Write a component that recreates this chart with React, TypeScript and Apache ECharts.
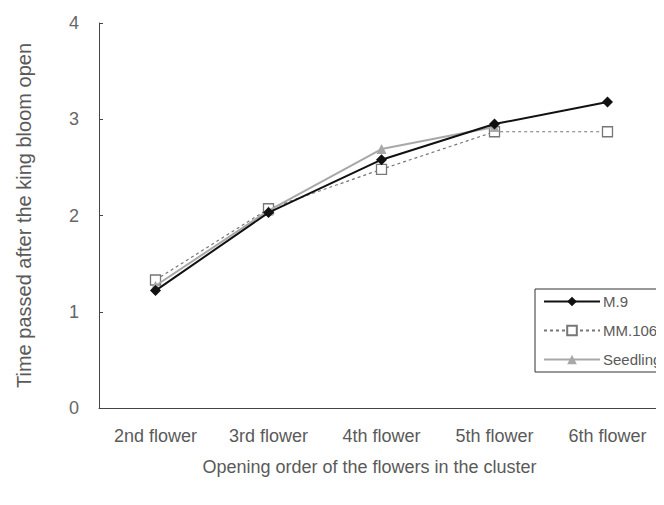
import React, { useEffect, useRef } from "react";
import * as echarts from "echarts";

const categories = ["2nd flower", "3rd flower", "4th flower", "5th flower", "6th flower"];
const m9 = [1.22, 2.03, 2.58, 2.95, 3.18];
const mm106 = [1.33, 2.07, 2.48, 2.87, 2.87];
const seedling = [1.27, 2.05, 2.69, 2.92, null];
const yTicks = [0, 1, 2, 3, 4];

export default function App() {
  const ref = useRef<HTMLDivElement>(null);
  useEffect(() => {
    if (!ref.current) return;
    const chart = echarts.init(ref.current, undefined, { renderer: "svg" });
    const font = "Arial, 'Liberation Sans', sans-serif";
    const txt = "#5a5a5a";
    chart.setOption({
      animation: false,
      backgroundColor: "#ffffff",
      textStyle: { fontFamily: font },
      grid: { left: 99, top: 23, right: -5, bottom: 97 },
      legend: {
        orient: "vertical",
        left: 535,
        top: 289,
        itemWidth: 56,
        itemHeight: 12,
        itemGap: 14,
        padding: [5, 60, 5, 8],
        borderColor: "#333",
        borderWidth: 1,
        textStyle: { fontSize: 15, color: txt, fontFamily: font, padding: [0, 0, 0, -2] },
        data: ["M.9", "MM.106", "Seedling"],
      },
      xAxis: {
        type: "category",
        data: categories,
        boundaryGap: true,
        name: "Opening order of the flowers in the cluster",
        nameLocation: "middle",
        nameGap: 50,
        nameTextStyle: { fontSize: 18, color: txt, fontFamily: font, verticalAlign: "top", padding: [0, 24, 0, 0] },
        axisLine: { lineStyle: { color: "#444", width: 1 } },
        axisTick: { inside: true, length: 4, lineStyle: { color: "#444" } },
        axisLabel: { fontSize: 18, color: txt, margin: 19, fontFamily: font },
      },
      yAxis: {
        type: "value",
        min: yTicks[0],
        max: yTicks[yTicks.length - 1],
        interval: 1,
        name: "Time passed after the king bloom open",
        nameLocation: "middle",
        nameRotate: 90,
        nameGap: 65,
        nameTextStyle: { fontSize: 20, color: txt, fontFamily: font },
        splitLine: { show: false },
        axisLine: { show: true, lineStyle: { color: "#444", width: 1 } },
        axisTick: { show: true, inside: true, length: 4, lineStyle: { color: "#444" } },
        axisLabel: { fontSize: 18, color: "#666", margin: 20, fontFamily: font },
      },
      series: [
        {
          name: "M.9",
          type: "line",
          data: m9,
          symbol: "diamond",
          symbolSize: 11,
          lineStyle: { color: "#111", width: 2 },
          itemStyle: { color: "#111" },
          z: 5,
        },
        {
          name: "MM.106",
          type: "line",
          data: mm106,
          symbol: "rect",
          symbolSize: 10,
          lineStyle: { color: "#777", width: 1.2, type: [3, 3] },
          itemStyle: { color: "#fff", borderColor: "#777", borderWidth: 1.3 },
          z: 3,
        },
        {
          name: "Seedling",
          type: "line",
          data: seedling,
          symbol: "triangle",
          symbolSize: 10,
          connectNulls: false,
          lineStyle: { color: "#a8a8a8", width: 2 },
          itemStyle: { color: "#a8a8a8" },
          z: 4,
        },
      ],
    });
    return () => chart.dispose();
  }, []);
  return <div ref={ref} style={{ width: 664, height: 505, margin: -8 }} />;
}
